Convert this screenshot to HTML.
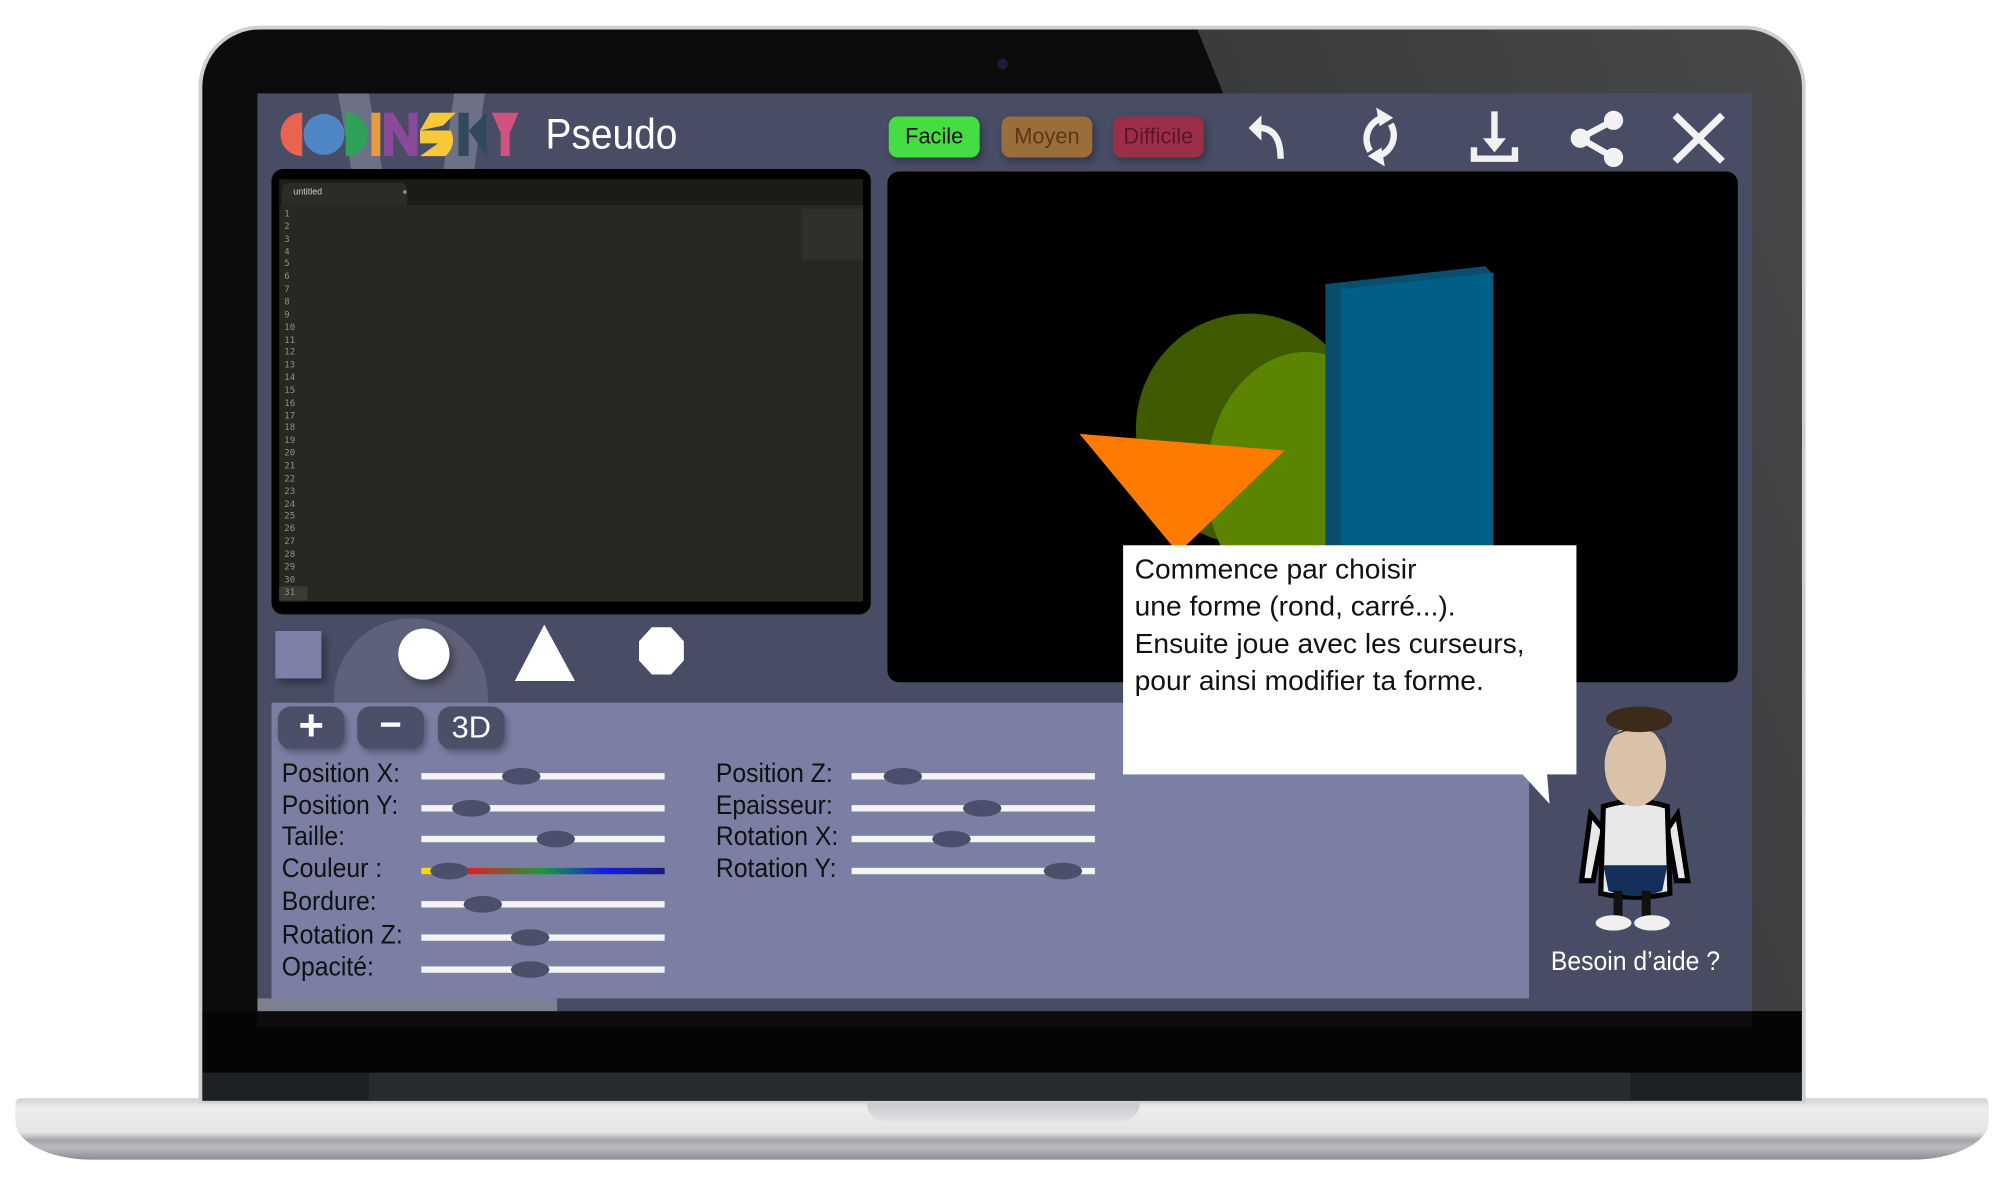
<!DOCTYPE html>
<html><head><meta charset="utf-8"><style>
html,body{margin:0;padding:0;background:#fff;width:2008px;height:1184px;overflow:hidden}
#w{position:absolute;left:0;top:0;width:1568px;height:925px;transform:scale(1.28061,1.28);transform-origin:0 0;font-family:"Liberation Sans Narrow","Liberation Sans",sans-serif}
.a{position:absolute}
.lbl{position:absolute;font-size:21px;color:#111;line-height:1;transform:scaleX(.92);transform-origin:0 0}
.trk{position:absolute;height:5px;background:#f4f4f4;width:190px}
.knob{position:absolute;width:30px;height:13px;border-radius:50%;background:#4a4f6a;margin-left:-15px;margin-top:-4px}
.btn{position:absolute;top:91px;width:71px;height:32px;border-radius:7px;font-size:17px;text-align:center;line-height:32px;box-shadow:2px 3px 6px rgba(0,0,0,.3)}
.pb{position:absolute;top:552px;width:52px;height:33px;border-radius:10px;background:#4a4f6a;color:#fff;text-align:center;box-shadow:2px 3px 5px rgba(0,0,0,.3)}
.ln{position:absolute;left:222px;font-size:7px;color:#8f908a;font-family:"DejaVu Sans Mono",monospace}
</style></head><body><div id="w">
<!-- base -->
<div class="a" style="left:12px;top:858px;width:1541px;height:48px;border-radius:4px 4px 60px 60px/4px 4px 30px 30px;background:linear-gradient(#cfd0d3,#ededee 15%,#e4e5e7 55%,#a4a6ab 68%,#b9bbc0 80%,#8a8c92)"></div>
<div class="a" style="left:677px;top:858px;width:213px;height:18px;border-radius:0 0 14px 14px;background:linear-gradient(#c2c3c6,#e0e1e3)"></div>
<!-- lid -->
<div class="a" style="left:155px;top:20px;width:1255px;height:842px;border-radius:48px 48px 0 0;background:#cfd0d2"></div>
<div class="a" style="left:158px;top:23px;width:1249px;height:837px;border-radius:45px 45px 0 0;background:#0c0c0d;overflow:hidden">
 <div class="a" style="left:777px;top:0;width:600px;height:767px;background:linear-gradient(90deg,#3a3b3c,#4b4c4d);transform:skewX(22deg);transform-origin:0 0"></div>
 <div class="a" style="left:0;top:767px;width:1249px;height:48px;background:#050506"></div>
 <div class="a" style="left:0;top:815px;width:1249px;height:22px;background:#1d2024"></div>
 <div class="a" style="left:130px;top:815px;width:985px;height:22px;background:#272a2f"></div>
</div>
<div class="a" style="left:779px;top:46px;width:8px;height:8px;border-radius:50%;background:#1b1f3a"></div>
<div class="a" style="left:201px;top:790px;width:1167px;height:12px;background:#0d0d10"></div>
<!-- screen -->
<div class="a" style="left:201px;top:73px;width:1167px;height:717px;background:#484d65;overflow:hidden">
 <div class="a" style="left:70px;top:0;width:24px;height:80px;background:#6d7186;transform:skewX(10deg)"></div>
 <div class="a" style="left:148px;top:0;width:24px;height:80px;background:#6d7186;transform:skewX(-8deg)"></div>
 <div class="a" style="left:60px;top:410px;width:120px;height:80px;border-radius:60px 60px 0 0;background:#5d6179"></div>
 <div class="a" style="left:0;top:707px;width:234px;height:10px;background:#7c8090"></div>
</div>
<!-- logo -->
<svg class="a" style="left:216px;top:88px" width="190" height="34" viewBox="0 0 190 34">
<path d="M20 0A17 17 0 0 0 20 34Z" fill="#e8644f"/>
<circle cx="37" cy="17" r="16" fill="#4f86c6"/>
<path d="M54 0A17 17 0 0 1 54 34Z" fill="#2ea25a"/>
<rect x="74" y="0" width="7" height="34" fill="#e89a3c"/>
<path d="M84 0h7l12 20V0h7v34h-7L91 14v20h-7Z" fill="#8a4a9c"/>
<path d="M112 14h24v0A16 16 0 0 1 112 34l14-10h-14Z M112 14l8-14h20l-10 10z" fill="#f5c93a"/>
<path d="M142 0h8v34h-8Z M150 14l14-14v34Z" fill="#32495c"/>
<path d="M168 0h21l-7 16v18h-7V16Z" fill="#d0527e"/>
</svg>
<div class="a" style="left:426px;top:86px;font-size:33px;color:#fff;font-family:'Liberation Sans',sans-serif;transform:scaleX(.92);transform-origin:0 0">Pseudo</div>
<div class="btn" style="left:694px;background:#44dd44;color:#111">Facile</div>
<div class="btn" style="left:782px;background:#9a6e3a;color:#5a3716">Moyen</div>
<div class="btn" style="left:869px;background:#9c2f48;color:#5e1428">Difficile</div>
<!-- icons -->
<svg class="a" style="left:965px;top:84px" width="385" height="50" viewBox="965 84 385 50" fill="none" stroke="#f2f2f2" stroke-width="5">
<path d="M980 100Q1000 98 1000 124"/><path d="M975 100l10-10v20z" fill="#f2f2f2" stroke="none"/>
<path d="M1070 118A17 17 0 0 1 1080 92M1086 97A17 17 0 0 1 1076 122"/>
<path d="M1076 86l10 6-8 5z M1080 128l-10-6 8-5z" fill="#f2f2f2" stroke-width="2"/>
<path d="M1167 87v25"/><path d="M1158 108h18l-9 11z" fill="#f2f2f2" stroke="none"/>
<path d="M1151 115v9h32v-9"/>
<path d="M1260 94L1234 108L1260 123"/>
<circle cx="1260" cy="94" r="5" fill="#f2f2f2"/><circle cx="1234" cy="108" r="5" fill="#f2f2f2"/><circle cx="1260" cy="123" r="5" fill="#f2f2f2"/>
<path d="M1308 90L1345 126M1345 90L1308 126" stroke-width="5.5"/>
</svg>
<!-- editor -->
<div class="a" style="left:212px;top:132px;width:468px;height:348px;border-radius:9px;background:#000"></div>
<div class="a" style="left:218px;top:140px;width:456px;height:20px;background:#1b1c18"></div>
<div class="a" style="left:220px;top:143px;width:98px;height:17px;border-radius:5px 5px 0 0;background:#2b2c27;font-size:7px;color:#ccc;line-height:15px;text-indent:9px;font-family:'Liberation Sans',sans-serif">untitled<span style="position:absolute;left:85px;color:#888">●</span></div>
<div class="a" style="left:218px;top:160px;width:456px;height:310px;background:#272822"></div>
<div class="a" style="left:626px;top:163px;width:48px;height:40px;background:#2f302b"></div>
<div class="a" style="left:218px;top:458px;width:22px;height:11px;background:#3a3b33"></div>
<div id="lns"></div>
<!-- viewport -->
<div class="a" style="left:693px;top:134px;width:664px;height:399px;border-radius:9px;background:#000;overflow:hidden">
<svg width="664" height="399" viewBox="693 134 664 399">
<ellipse cx="975" cy="335" rx="88" ry="90" fill="#3f5a00"/>
<ellipse cx="1020" cy="375" rx="78" ry="100" fill="#5b8400"/>
<path d="M1035 222L1160 208L1166 215L1166 430L1035 430Z" fill="#0a4d6c"/>
<path d="M1047 226L1166 213V430H1047Z" fill="#005f86"/>
<path d="M843 339L1003 352L920 432Z" fill="#ff7b00"/>
</svg></div>
<!-- shapes row -->
<div class="a" style="left:215px;top:493px;width:36px;height:37px;background:#7f80a8;box-shadow:3px 4px 6px rgba(0,0,0,.35)"></div>
<div class="a" style="left:311px;top:491px;width:40px;height:40px;border-radius:50%;background:#fff;box-shadow:3px 4px 6px rgba(0,0,0,.35)"></div>
<svg class="a" style="left:395px;top:484px" width="140" height="56"><path d="M30 4L7 48H54Z" fill="#fff"/><path d="M114 6h15l10 11v15l-10 11h-15l-10-11V17Z" fill="#fff"/></svg>
<!-- panel -->
<div class="a" style="left:212px;top:549px;width:982px;height:231px;background:#7b7fa3"></div>
<div class="pb" style="left:217px;font-size:34px;line-height:31px;font-weight:bold">+</div>
<div class="pb" style="left:279px;font-size:30px;line-height:29px;font-weight:bold">−</div>
<div class="pb" style="left:342px;font-size:24px;line-height:33px">3D</div>
<div id="sl"></div>
<!-- bubble -->
<div class="a" style="left:877px;top:426px;width:354px;height:179px;background:#fff"></div>
<svg class="a" style="left:1185px;top:604px" width="30" height="26"><path d="M3 0H23L25 24Z" fill="#fff"/></svg>
<div class="a" style="left:886px;top:430px;font-size:22px;line-height:29px;color:#111">Commence par choisir<br>une forme (rond, carré...).<br>Ensuite joue avec les curseurs,<br>pour ainsi modifier ta forme.</div>
<!-- character -->
<svg class="a" style="left:1230px;top:548px" width="95" height="185" viewBox="0 0 95 185">
<path d="M12 88L5 140L14 140L22 100Z M80 88L88 140L79 140L72 100Z" fill="#e8e8e8" stroke="#000" stroke-width="4"/>
<path d="M22 82Q46 74 72 82L74 150Q46 156 20 150Z" fill="#e8e8e8" stroke="#000" stroke-width="4"/>
<path d="M22 128H72L68 148Q46 156 26 148Z" fill="#14305a"/>
<rect x="30" y="148" width="7" height="22" fill="#111"/><rect x="52" y="148" width="7" height="22" fill="#111"/>
<ellipse cx="30" cy="173" rx="14" ry="6" fill="#f0f0f0"/><ellipse cx="60" cy="173" rx="14" ry="6" fill="#f0f0f0"/>
<ellipse cx="47" cy="50" rx="24" ry="32" fill="#d9c2a8"/>
<path d="M24 35Q30 20 50 22Q70 22 72 40L68 28Q50 16 28 28Z" fill="#333"/>
<ellipse cx="50" cy="14" rx="26" ry="10" fill="#3c2a1a"/>
</svg>
<div class="a" style="left:1211px;top:740px;font-size:21px;color:#fff;transform:scaleX(.92);transform-origin:0 0">Besoin d’aide ?</div>
</div>
<script>
var h='';for(var i=1;i<=31;i++){h+='<div class="ln" style="top:'+(163+(i-1)*9.85)+'px">'+i+'</div>';}
document.getElementById('lns').outerHTML=h;
var L=[["Position X:",605,407],["Position Y:",630,368],["Taille:",654,434],["Couleur :",679,351],["Bordure:",705,377],["Rotation Z:",731,414],["Opacité:",756,414]];
var R=[["Position Z:",605,705],["Epaisseur:",630,767],["Rotation X:",654,743],["Rotation Y:",679,830]];
var s='';
L.forEach(function(r,i){s+='<div class="lbl" style="left:220px;top:'+(r[1]-11)+'px">'+r[0]+'</div>';
var bg=i==3?'background:linear-gradient(90deg,#ffd700 0,#ffd700 4%,#e02020 20%,#1a9a40 50%,#1020e0 75%,#1a1a7a 100%);':'';
s+='<div class="trk" style="left:329px;top:'+(r[1]-1)+'px;'+bg+'"></div><div class="knob" style="left:'+r[2]+'px;top:'+(r[1]-1)+'px"></div>';});
R.forEach(function(r){s+='<div class="lbl" style="left:559px;top:'+(r[1]-11)+'px">'+r[0]+'</div><div class="trk" style="left:665px;top:'+(r[1]-1)+'px"></div><div class="knob" style="left:'+r[2]+'px;top:'+(r[1]-1)+'px"></div>';});
document.getElementById('sl').outerHTML=s;
</script>
</body></html>
